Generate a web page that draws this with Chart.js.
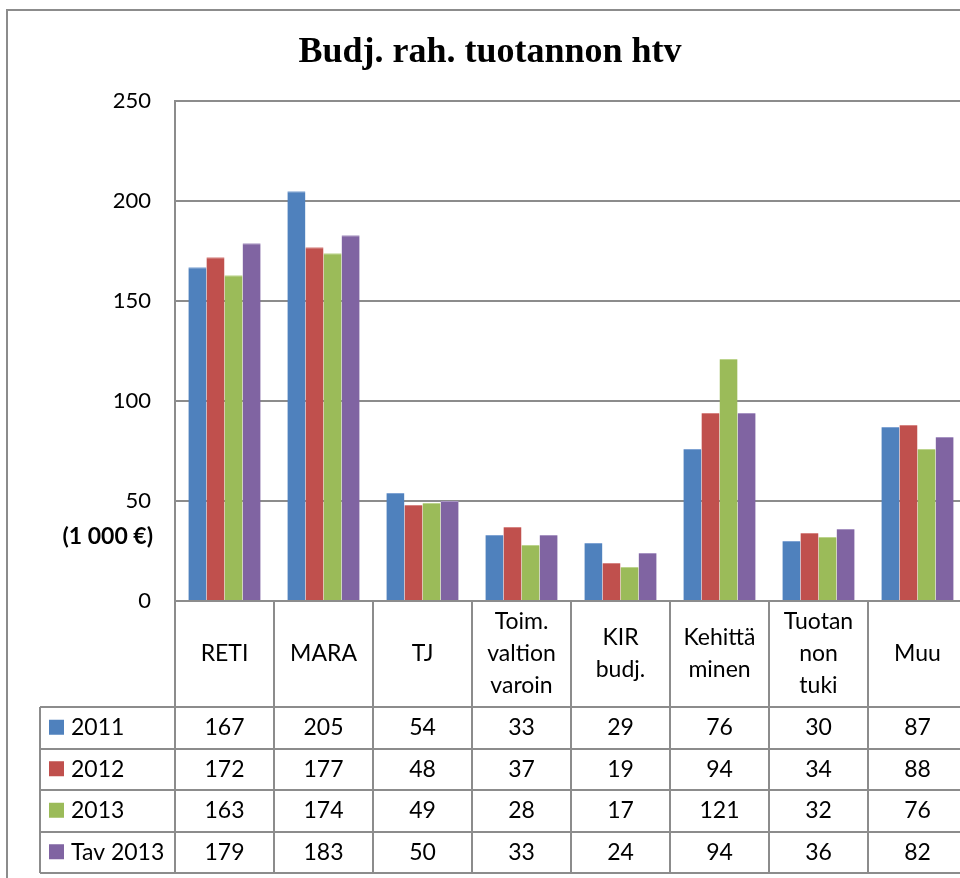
<!DOCTYPE html>
<html>
<head>
<meta charset="utf-8">
<script src="https://cdn.jsdelivr.net/npm/chart.js@4/dist/chart.umd.min.js"></script>
<style>
    html, body { margin: 0; padding: 0; background: #fff; overflow: hidden; }
    #wrap { position: relative; width: 980px; height: 878px; }
</style>
</head>
<body>
<div id="wrap"><canvas id="htvChart" width="980" height="878"></canvas></div>
<script>
/* Chart data */
const categories = [
    ["RETI"], ["MARA"], ["TJ"], ["Toim.", "valtion", "varoin"],
    ["KIR", "budj."], ["Kehittä", "minen"], ["Tuotan", "non", "tuki"], ["Muu"]
];
const seriesNames = ["2011", "2012", "2013", "Tav 2013"];
const values2011 = [167, 205, 54, 33, 29, 76, 30, 87];
const values2012 = [172, 177, 48, 37, 19, 94, 34, 88];
const values2013 = [163, 174, 49, 28, 17, 121, 32, 76];
const valuesTav2013 = [179, 183, 50, 33, 24, 94, 36, 82];
const yTicks = [0, 50, 100, 150, 200, 250];

const colors = ["#4F81BD", "#C0504D", "#9BBB59", "#8064A2"];
const edges = ["#7FA3D3", "#D68482", "#BCD48D", "#A793C2"];
const gridGrey = "#8C8C8C";
const font = "Lato, 'Open Sans', sans-serif";

/* Data table drawn under the plot, positioned from the x scale */
const tablePlugin = {
    id: "dataTable",
    afterDraw(chart) {
        const c = chart.ctx;
        const xs = chart.scales.x;
        const area = chart.chartArea;
        const catW = xs.width / categories.length;
        const headerH = 106;
        const rowH = 41.5;
        const tableLeft = 40;
        const rows = [values2011, values2012, values2013, valuesTav2013];
        const top = area.bottom;
        const bottom = top + headerH + rows.length * rowH;

        c.save();
        c.strokeStyle = gridGrey;
        c.lineWidth = 2;

        // vertical lines
        c.beginPath();
        for (let i = 0; i <= categories.length; i++) {
            const x = Math.round(xs.left + i * catW);
            c.moveTo(x, top);
            c.lineTo(x, bottom);
        }
        c.moveTo(tableLeft, top + headerH);
        c.lineTo(tableLeft, bottom);
        // horizontal lines
        for (let r = 0; r <= rows.length; r++) {
            const y = Math.round(top + headerH + r * rowH);
            c.moveTo(tableLeft, y);
            c.lineTo(chart.width, y);
        }
        c.stroke();

        c.fillStyle = "#000";
        c.font = "23px " + font;
        c.textAlign = "center";
        c.textBaseline = "middle";

        // category headers
        categories.forEach((lines, i) => {
            const cx = xs.getPixelForValue(i);
            const lh = 32;
            const y0 = top + headerH / 2 - (lines.length - 1) * lh / 2;
            lines.forEach((t, k) => c.fillText(t, cx, y0 + k * lh));
        });

        // value rows
        rows.forEach((vals, r) => {
            const cy = top + headerH + r * rowH + rowH / 2;
            vals.forEach((v, i) => c.fillText(v, xs.getPixelForValue(i), cy));

            c.fillStyle = colors[r];
            c.fillRect(49, cy - 8, 15, 15);
            c.fillStyle = "#000";
            c.textAlign = "left";
            c.fillText(seriesNames[r], 71, cy);
            c.textAlign = "center";
        });

        // unit label
        c.font = "bold 23px " + font;
        c.textAlign = "right";
        c.fillText("(1 000 €)", 153, chart.scales.y.getPixelForValue(32));

        // outer frame
        c.beginPath();
        c.moveTo(7, chart.height);
        c.lineTo(7, 10);
        c.lineTo(chart.width, 10);
        c.stroke();
        c.restore();
    }
};

const allSeries = [values2011, values2012, values2013, valuesTav2013];

new Chart(document.getElementById("htvChart"), {
    type: "bar",
    data: {
        labels: categories.map(l => l.join(" ")),
        datasets: allSeries.map((vals, i) => ({
            label: seriesNames[i],
            data: vals,
            backgroundColor: colors[i],
            borderColor: edges[i],
            borderWidth: { top: 1, left: 0, right: 0, bottom: 0 },
            categoryPercentage: 0.73,
            barPercentage: 1.0
        }))
    },
    plugins: [tablePlugin],
    options: {
        responsive: false,
        animation: false,
        layout: { padding: { left: 13, right: 13, top: 0, bottom: 277 } },
        plugins: {
            legend: { display: false },
            tooltip: { enabled: false },
            title: {
                display: true,
                text: "Budj. rah. tuotannon htv",
                color: "#000",
                font: { family: "'Liberation Serif', 'DejaVu Serif', serif", size: 36, weight: "bold" },
                padding: { top: 31, bottom: 27 }
            }
        },
        scales: {
            x: {
                display: true,
                ticks: { display: false },
                grid: { display: false, drawTicks: false },
                border: { display: true, color: gridGrey, width: 2 },
                afterFit(scale) { scale.height = 0; }
            },
            y: {
                min: 0,
                max: 250,
                afterBuildTicks(scale) { scale.ticks = yTicks.map(v => ({ value: v })); },
                afterFit(scale) { scale.width = 162; },
                ticks: {
                    color: "#000",
                    font: { family: font, size: 22 },
                    padding: 24
                },
                grid: { color: gridGrey, lineWidth: 2, drawTicks: false },
                border: { display: true, color: gridGrey, width: 2 }
            }
        }
    }
});
</script>
</body>
</html>
